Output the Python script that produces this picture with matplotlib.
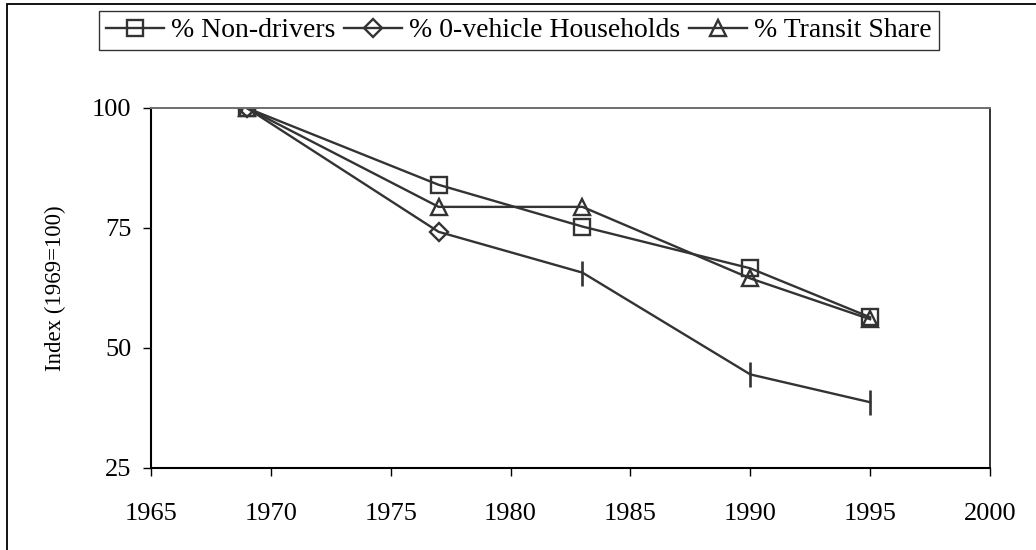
import matplotlib.pyplot as plt
from matplotlib.patches import Rectangle

# Index values (1969 = 100)
years = [1969, 1977, 1983, 1990, 1995]
non_drivers = [100, 84.0, 75.3, 66.6, 56.4]
zero_vehicle = [100, 74.2, 65.7, 44.5, 38.7]
transit_share = [100, 79.4, 79.4, 64.5, 56.0]

x_ticks = [1965, 1970, 1975, 1980, 1985, 1990, 1995, 2000]
y_ticks = [25, 50, 75, 100]

line_col = '#333333'
plt.rcParams['font.family'] = ['Liberation Serif', 'DejaVu Serif']

W, H = 1036, 550
fig = plt.figure(figsize=(W/100, H/100), dpi=100)
ax = fig.add_axes([151/W, (H-468)/H, 839/W, 360/H])

# Outer chart frame (right and bottom edges run off the picture)
fig.patches.append(Rectangle((7/W, -0.1), 1.2, 1 - 4/H + 0.1, transform=fig.transFigure,
                             fill=False, edgecolor='black', linewidth=1.3))

mk = dict(markerfacecolor='none', markeredgecolor=line_col, markeredgewidth=1.7)

# 0-vehicle series: diamonds on the first two points, bar ticks on the rest
ax.plot(years, zero_vehicle, color=line_col, linewidth=1.7)
ax.plot(years[:2], zero_vehicle[:2], linestyle='none', marker='D', markersize=9, **mk)
ax.plot(years[2:], zero_vehicle[2:], linestyle='none', marker='|', markersize=18,
        markeredgecolor=line_col, markeredgewidth=1.9)
ax.plot(years, non_drivers, color=line_col, linewidth=1.7, marker='s', markersize=12,
        label='% Non-drivers', **mk)
ax.plot(years, transit_share, color=line_col, linewidth=1.7, marker='^', markersize=12,
        label='% Transit Share', **mk)

# proxy handle so the legend shows the diamond
ax.plot([], [], color=line_col, linewidth=1.7, marker='D', markersize=9,
        label='% 0-vehicle Households', **mk)

ax.set_xlim(1965, 2000)
ax.set_ylim(25, 100)
ax.set_xticks(x_ticks)
ax.set_yticks(y_ticks)
ax.tick_params(axis='both', direction='out', length=6, width=1.0, labelsize=19, colors='black')
ax.tick_params(axis='x', pad=19)
ax.tick_params(axis='y', pad=8)

for side in ('left', 'bottom'):
    ax.spines[side].set_color('black')
    ax.spines[side].set_linewidth(1.5)
ax.spines['top'].set_color('#6e6e6e')
ax.spines['top'].set_linewidth(1.4)
ax.spines['right'].set_color('#333333')
ax.spines['right'].set_linewidth(1.4)

ax.set_ylabel('Index (1969=100)', fontsize=16.5)
ax.yaxis.set_label_coords((66 - 151)/839, 0.5)

h, l = ax.get_legend_handles_labels()
names = ['% Non-drivers', '% 0-vehicle Households', '% Transit Share']
order = [l.index(n) for n in names]
leg = fig.legend([h[i] for i in order], names, loc='upper left',
                 bbox_to_anchor=(99/W, 1 - 11/H), ncol=3, fontsize=20, frameon=True,
                 fancybox=False, shadow=False, borderaxespad=0, handlelength=2.1,
                 handletextpad=0.25, columnspacing=0.3, borderpad=0.25)
leg.get_frame().set_edgecolor('black')
leg.get_frame().set_linewidth(1.0)

fig.savefig('out.png', dpi=100)
